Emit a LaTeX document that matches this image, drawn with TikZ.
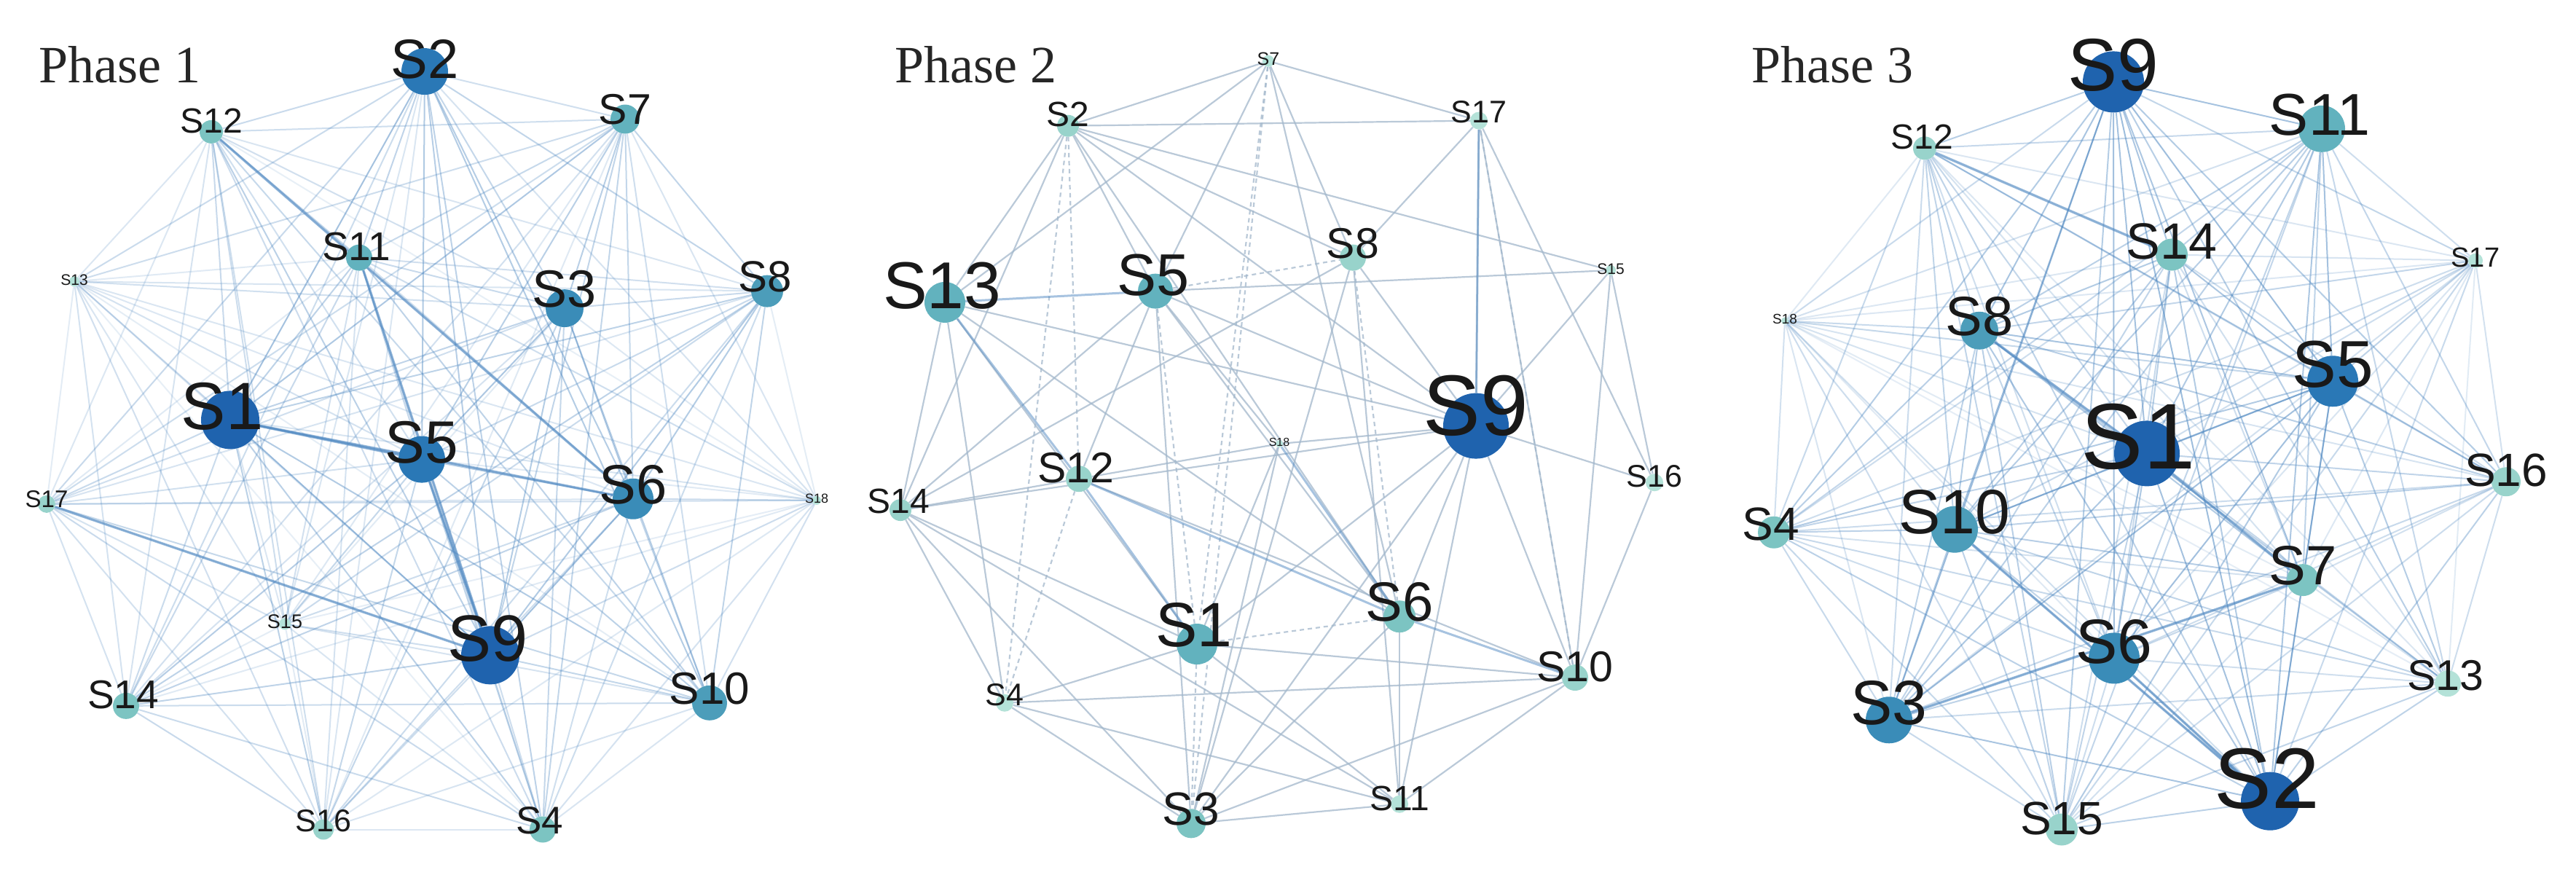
\documentclass[tikz,border=0pt]{standalone}
\usepackage{fontspec}
\setmainfont{Liberation Serif}
\newfontfamily\lab{Liberation Sans}
\pgfdeclarelayer{bg}
\pgfdeclarelayer{edges}
\pgfsetlayers{bg,edges,main}
\definecolor{cA}{HTML}{1F63AE}
\definecolor{cB}{HTML}{2A78B6}
\definecolor{cC}{HTML}{3A8CB8}
\definecolor{cD}{HTML}{4C9DBA}
\definecolor{cE}{HTML}{62B2BE}
\definecolor{cF}{HTML}{7CC4C2}
\definecolor{cG}{HTML}{98D3CB}
\definecolor{cH}{HTML}{B4E2D8}
\definecolor{edgeblue}{HTML}{5089C2}
\definecolor{edgegray}{HTML}{A3B8CC}
\newcommand\snode[9]{%
  \node[vert, fill=#5, minimum size={2pt*#4}] (#1) at (#2,#3) {};
  \node[vlabel, font=\lab\fontsize{#8}{#8}\selectfont] (#1t) at (#6,#7) {#9};
}
\begin{document}
\begin{tikzpicture}[x=1pt,y=-1.022pt,
  vert/.style={circle, inner sep=0pt, draw=none},
  vlabel/.style={inner sep=0pt, text=black!90},
  title/.style={anchor=base west, font=\fontsize{72}{72}\selectfont, text=black!85},
  e1/.style={draw=edgeblue, line width=2pt},
  e2/.style={draw=edgegray, line width=2.2pt, draw opacity=0.75},
  e2d/.style={e2, dashed, dash pattern=on 6pt off 5pt},
  e2k/.style={draw=edgeblue, line width=3pt, draw opacity=0.5},
  ek/.style={draw=edgeblue, line width=3.5pt, draw opacity=0.55}]
\begin{pgfonlayer}{bg}
\fill[white] (0,0) rectangle (3536,1174.17);
\end{pgfonlayer}
\useasboundingbox (0,0) rectangle (3536,1174.17);

\node[title] (t1) at (50,111) {Phase 1};
\node[title] (t2) at (1225,111) {Phase 2};
\node[title] (t3) at (2401,111) {Phase 3};

% ---------------- Phase 1 ----------------
\snode{p1s1}{316}{564}{40}{cA}{305}{546}{92}{S1}
\snode{p1s9}{673}{880}{40}{cA}{670}{858}{90}{S9}
\snode{p1s2}{583}{96}{32}{cB}{583}{80}{76}{S2}
\snode{p1s5}{579}{617}{32}{cB}{579}{594}{82}{S5}
\snode{p1s3}{775}{414}{26}{cC}{775}{388}{72}{S3}
\snode{p1s6}{869}{670}{28}{cC}{869}{651}{76}{S6}
\snode{p1s8}{1053}{391}{22}{cD}{1050}{372}{60}{S8}
\snode{p1s10}{974}{944}{24}{cD}{974}{925}{62}{S10}
\snode{p1s11}{493}{346}{18}{cE}{489}{331}{55}{S11}
\snode{p1s7}{858}{160}{20}{cE}{858}{147}{59}{S7}
\snode{p1s12}{290}{177}{16}{cF}{290}{162}{48}{S12}
\snode{p1s14}{173}{948}{18}{cF}{169}{933}{55}{S14}
\snode{p1s4}{745}{1114}{18}{cF}{741}{1102}{53}{S4}
\snode{p1s16}{444}{1114}{14}{cG}{444}{1102}{43}{S16}
\snode{p1s17}{64}{677}{12}{cG}{64}{670}{33}{S17}
\snode{p1s15}{391}{838}{8}{cH}{391}{835}{27}{S15}
\snode{p1s13}{102}{378}{7}{cH}{102}{376}{21}{S13}
\snode{p1s18}{1121}{672}{6}{cH}{1121}{670}{18}{S18}

% ---------------- Phase 2 ----------------
\snode{p2s9}{2026}{572}{45}{cA}{2026}{545}{118}{S9}
\snode{p2s13}{1297}{406}{28}{cE}{1293}{384}{91}{S13}
\snode{p2s5}{1586}{391}{24}{cE}{1583}{369}{81}{S5}
\snode{p2s1}{1643}{865}{28}{cE}{1639}{839}{86}{S1}
\snode{p2s6}{1921}{828}{22}{cF}{1921}{809}{76}{S6}
\snode{p2s8}{1857}{346}{18}{cG}{1857}{327}{59}{S8}
\snode{p2s12}{1481}{643}{18}{cG}{1477}{628}{59}{S12}
\snode{p2s3}{1635}{1106}{20}{cF}{1635}{1087}{64}{S3}
\snode{p2s10}{2162}{910}{18}{cG}{2162}{895}{59}{S10}
\snode{p2s2}{1466}{169}{15}{cG}{1466}{154}{48}{S2}
\snode{p2s14}{1236}{685}{15}{cG}{1233}{673}{48}{S14}
\snode{p2s4}{1379}{944}{12}{cH}{1379}{933}{43}{S4}
\snode{p2s11}{1921}{1080}{12}{cH}{1921}{1072}{48}{S11}
\snode{p2s17}{2030}{162}{12}{cH}{2030}{150}{43}{S17}
\snode{p2s16}{2271}{648}{12}{cH}{2271}{640}{43}{S16}
\snode{p2s7}{1741}{82}{8}{cH}{1741}{79}{25}{S7}
\snode{p2s15}{2211}{363}{7}{cH}{2211}{361}{21}{S15}
\snode{p2s18}{1756}{596}{5}{cH}{1756}{594}{16}{S18}

% ---------------- Phase 3 ----------------
\snode{p3s1}{2947}{609}{45}{cA}{2935}{587}{128}{S1}
\snode{p3s9}{2901}{110}{42}{cA}{2901}{87}{102}{S9}
\snode{p3s2}{3116}{1076}{40}{cA}{3112}{1046}{118}{S2}
\snode{p3s5}{3202}{512}{35}{cB}{3202}{489}{91}{S5}
\snode{p3s6}{2902}{884}{35}{cC}{2902}{862}{86}{S6}
\snode{p3s3}{2593}{967}{32}{cC}{2593}{944}{86}{S3}
\snode{p3s10}{2683}{711}{32}{cD}{2683}{688}{86}{S10}
\snode{p3s11}{3187}{173}{32}{cE}{3184}{154}{81}{S11}
\snode{p3s8}{2717}{444}{26}{cD}{2717}{425}{76}{S8}
\snode{p3s14}{2981}{342}{22}{cF}{2981}{324}{70}{S14}
\snode{p3s7}{3161}{779}{22}{cF}{3161}{760}{76}{S7}
\snode{p3s16}{3440}{647}{20}{cG}{3440}{632}{64}{S16}
\snode{p3s4}{2435}{715}{22}{cF}{2431}{704}{64}{S4}
\snode{p3s15}{2830}{1114}{22}{cG}{2830}{1099}{64}{S15}
\snode{p3s13}{3360}{918}{18}{cH}{3357}{907}{59}{S13}
\snode{p3s12}{2642}{199}{16}{cG}{2638}{184}{48}{S12}
\snode{p3s17}{3398}{350}{10}{cH}{3398}{346}{38}{S17}
\snode{p3s18}{2450}{431}{5}{cH}{2450}{429}{19}{S18}

\begin{pgfonlayer}{edges}
% Phase 1: dense network
\def\plistA{s1/1.0,s9/1.0,s5/0.9,s2/0.8,s6/0.8,s3/0.75,s10/0.7,s8/0.7,s7/0.65,s11/0.6,s14/0.6,s4/0.55,s12/0.55,s16/0.45,s17/0.45,s15/0.35,s13/0.3,s18/0.3}
\foreach \a/\wa [count=\i] in \plistA {
  \foreach \b/\wb [count=\j] in \plistA {
    \ifnum\j>\i
      \pgfmathsetmacro\op{0.07+0.38*\wa*\wb+0.035*mod(\i*7+\j*13,5)}
      \draw[e1, draw opacity=\op] (p1\a) -- (p1\b);
    \fi
  }
}
\draw[ek] (p1s1) -- (p1s5);
\draw[ek] (p1s5) -- (p1s9);
\draw[ek] (p1s17) -- (p1s9);
\draw[ek] (p1s11) -- (p1s9);
\draw[ek] (p1s12) -- (p1s6);
\draw[ek] (p1s1) -- (p1s6);

% Phase 2: sparser network
\foreach \a/\b in {s2/s7,s2/s17,s7/s17,s2/s13,s2/s5,s2/s14,s2/s8,s2/s9,s2/s15,s2/s6,
  s7/s5,s7/s8,s7/s13,s7/s6,s17/s8,s17/s9,s17/s10,s13/s14,s13/s4,s13/s1,s13/s6,s13/s9,
  s5/s15,s5/s9,s5/s3,s5/s6,s5/s12,s5/s14,s5/s18,s8/s9,s8/s3,s8/s14,s8/s11,
  s15/s9,s15/s16,s15/s10,s9/s18,s9/s16,s9/s10,s9/s6,s9/s1,s9/s3,s9/s11,s9/s14,
  s18/s12,s18/s1,s18/s3,s12/s14,s12/s10,s16/s10,s16/s17,s14/s4,s14/s1,s14/s3,s14/s11,
  s6/s11,s6/s3,s1/s4,s1/s10,s1/s11,s10/s3,s10/s4,s10/s11,s4/s3,s4/s11,s3/s11}
  {\draw[e2] (p2\a) -- (p2\b);}
\foreach \a/\b in {s2/s12,s2/s4,s7/s1,s5/s8,s5/s1,s8/s6,s6/s1,s1/s3,s10/s17,s12/s4,s7/s3}
  {\draw[e2d] (p2\a) -- (p2\b);}
\foreach \a/\b in {s13/s5,s13/s12,s12/s1,s12/s6,s18/s6,s6/s10,s17/s9}
  {\draw[e2k] (p2\a) -- (p2\b);}

% Phase 3: dense network
\def\plistC{s1/1.0,s2/1.0,s9/1.0,s5/0.9,s6/0.85,s3/0.85,s11/0.8,s10/0.8,s8/0.75,s7/0.7,s14/0.7,s16/0.6,s4/0.6,s15/0.6,s13/0.55,s12/0.55,s17/0.4,s18/0.3}
\foreach \a/\wa [count=\i] in \plistC {
  \foreach \b/\wb [count=\j] in \plistC {
    \ifnum\j>\i
      \pgfmathsetmacro\op{0.08+0.4*\wa*\wb+0.035*mod(\i*11+\j*5,5)}
      \draw[e1, draw opacity=\op] (p3\a) -- (p3\b);
    \fi
  }
}
\draw[ek] (p3s1) -- (p3s7);
\draw[ek] (p3s12) -- (p3s14);
\draw[ek] (p3s3) -- (p3s7);
\draw[ek] (p3s6) -- (p3s2);
\draw[ek] (p3s10) -- (p3s2);
\draw[ek] (p3s8) -- (p3s1);
\end{pgfonlayer}
\end{tikzpicture}
\end{document}
